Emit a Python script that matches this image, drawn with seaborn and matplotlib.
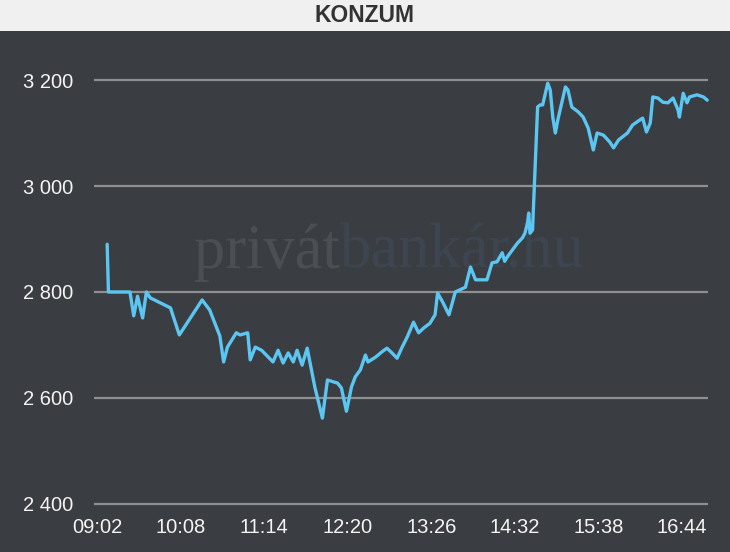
import numpy as np
import pandas as pd
import matplotlib.pyplot as plt
import seaborn as sns
from matplotlib.patches import Rectangle

# Konzum intraday price
times = ["09:10", "09:11", "09:28", "09:31", "09:34", "09:38", "09:41", "09:44", "10:00", "10:07",
         "10:25", "10:31", "10:39", "10:42", "10:45", "10:52", "10:55", "11:01", "11:03", "11:07",
         "11:12", "11:21", "11:25", "11:29", "11:33", "11:37", "11:40", "11:44", "11:48", "11:54",
         "12:00", "12:04", "12:12", "12:15", "12:19", "12:23", "12:26", "12:30", "12:34", "12:36",
         "12:42", "12:47", "12:51", "12:55", "12:59", "13:03", "13:07", "13:12", "13:16", "13:20",
         "13:25", "13:29", "13:31", "13:35", "13:40", "13:45", "13:53", "13:57", "14:01", "14:10",
         "14:14", "14:18", "14:22", "14:24", "14:26", "14:30", "14:34", "14:38", "14:40", "14:42",
         "14:43", "14:44", "14:46", "14:50", "14:52", "14:54", "14:58", "15:00", "15:02", "15:04",
         "15:06", "15:12", "15:14", "15:17", "15:22", "15:26", "15:30", "15:34", "15:37", "15:42",
         "15:47", "15:50", "15:54", "16:01", "16:05", "16:11", "16:13", "16:16", "16:19", "16:21",
         "16:25", "16:29", "16:33", "16:37", "16:41", "16:42", "16:45", "16:48", "16:50", "16:56",
         "17:01", "17:04"]
prices = [2890, 2800, 2800, 2755, 2792, 2751, 2800, 2789, 2770, 2719,
          2785, 2766, 2717, 2668, 2696, 2723, 2719, 2723, 2672, 2696,
          2690, 2668, 2690, 2666, 2685, 2668, 2690, 2662, 2694, 2621,
          2562, 2634, 2628, 2619, 2575, 2621, 2640, 2653, 2681, 2668,
          2677, 2687, 2694, 2685, 2675, 2696, 2715, 2743, 2723, 2732,
          2741, 2757, 2798, 2781, 2757, 2800, 2809, 2847, 2823, 2823,
          2855, 2857, 2874, 2858, 2866, 2879, 2892, 2902, 2911, 2930,
          2949, 2911, 2917, 3149, 3153, 3153, 3194, 3181, 3130, 3100,
          3125, 3187, 3181, 3149, 3140, 3130, 3109, 3068, 3100, 3096,
          3083, 3072, 3087, 3100, 3115, 3125, 3128, 3102, 3119, 3168,
          3166, 3158, 3157, 3166, 3143, 3130, 3175, 3157, 3168, 3172,
          3168, 3162]

x_ticks = ["09:02", "10:08", "11:14", "12:20", "13:26", "14:32", "15:38", "16:44"]
y_ticks = [2400, 2600, 2800, 3000, 3200]
y_tick_labels = ["2 400", "2 600", "2 800", "3 000", "3 200"]


def to_minutes(hhmm):
    h, m = hhmm.split(":")
    return int(h) * 60 + int(m)


df = pd.DataFrame({"time": [to_minutes(t) for t in times], "price": prices})

bg = "#3a3d42"
sns.set_style("dark", {"axes.facecolor": bg, "figure.facecolor": bg})
plt.rcParams["font.family"] = ["Liberation Sans", "DejaVu Sans"]

W, H = 730, 552
fig = plt.figure(figsize=(W / 100, H / 100), dpi=100)
fig.patch.set_facecolor(bg)

# light title bar on top
fig.patches.append(Rectangle((0, 1 - 31 / H), 1, 31 / H, transform=fig.transFigure,
                             facecolor="#f0f0f0", edgecolor="none", zorder=0))
fig.text(0.5, 1 - 16 / H, "KONZUM", ha="center", va="center", fontsize=16.5,
         fontweight="bold", color="#333333")

ax = fig.add_axes([94 / W, 45 / H, 614 / W, 467 / H])
ax.set_facecolor(bg)

# faint watermark
ax.text(340 / W, 1 - 268 / H, "privát", transform=fig.transFigure, ha="right",
        va="baseline", fontsize=45, family=["Liberation Serif", "DejaVu Serif"],
        color="#4b4e53", zorder=1)
ax.text(340 / W, 1 - 268 / H, "bankár.hu", transform=fig.transFigure, ha="left",
        va="baseline", fontsize=45, family=["Liberation Serif", "DejaVu Serif"],
        color="#3d4650", zorder=1)

sns.lineplot(data=df, x="time", y="price", ax=ax, color="#5cc6f2", lw=2.4,
             zorder=3, clip_on=False)

ax.set_xlim(539.6, 1024.6)
ax.set_ylim(2394.3, 3275.5)
ax.set_xticks([to_minutes(t) for t in x_ticks])
ax.set_xticklabels(x_ticks)
ax.set_yticks(y_ticks)
ax.set_yticklabels(y_tick_labels)
ax.tick_params(axis="both", length=0, labelsize=14.5, colors="#f4f4f4")
ax.tick_params(axis="x", pad=8)
ax.tick_params(axis="y", pad=15)

ax.grid(False)
ax.grid(True, axis="y", color="#8f8f8f", lw=1.6, zorder=2)
for s in ax.spines.values():
    s.set_visible(False)
ax.set_xlabel("")
ax.set_ylabel("")

fig.savefig("out.png", dpi=100, facecolor=bg)
